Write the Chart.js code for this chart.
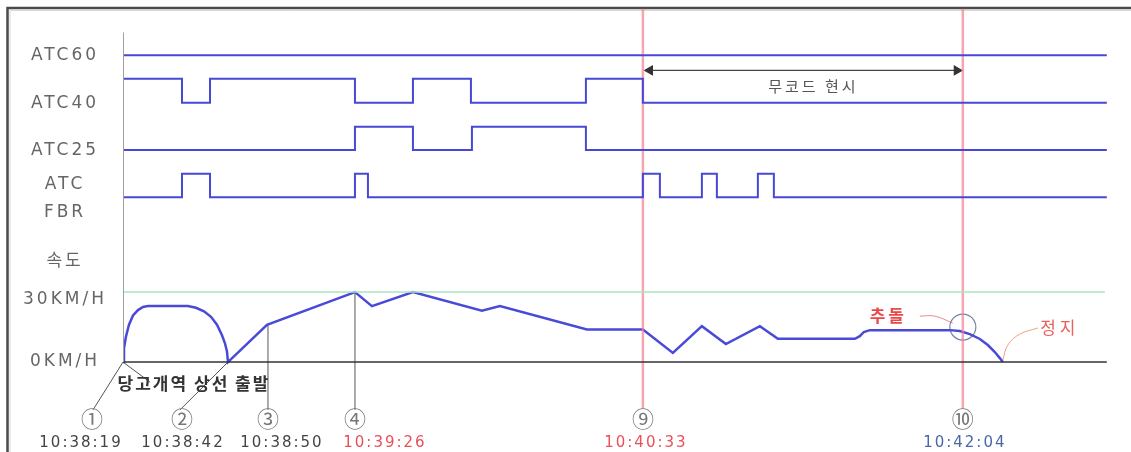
<!DOCTYPE html>
<html>
<head>
<meta charset="utf-8">
<script src="https://cdn.jsdelivr.net/npm/chart.js@4.4.0/dist/chart.umd.min.js"></script>
<style>
  html, body { margin: 0; padding: 0; background: #fff; }
  canvas { display: block; }
</style>
</head>
<body>
<canvas id="atc-chart" width="1131" height="452"></canvas>
<script>
// x = position along the time line (not linear in clock time), y = speed in km/h
// signal rows live above the speed area on the same y scale

const yTickValues = [0, 27, 43.3, 70.1, 90.9, 111, 131.6];
const yTickLabels = ["0KM/H", "30KM/H", "속도", ["ATC", "FBR"], "ATC25", "ATC40", "ATC60"];

// signal edges: state holds from this x until the next one
const atc60X = [0, 984];
const atc60State = [1, 1];
const atc40X = [0, 59, 87, 232, 290, 348, 463, 520, 984];
const atc40State = [1, 0, 1, 0, 1, 0, 1, 0, 0];
const atc25X = [0, 232, 290, 349, 463, 984];
const atc25State = [0, 1, 0, 1, 0, 0];
const fbrX = [0, 59, 87, 232, 245, 520, 537, 579, 594, 635, 651, 984];
const fbrState = [0, 1, 0, 1, 0, 1, 0, 1, 0, 1, 0, 0];

// speed trace
const speedX = [0, 1, 3, 6, 10, 15, 20, 25, 65, 73, 81, 88, 94, 99, 102, 104, 105,
  144, 232, 249, 290, 359, 377, 464, 520, 550, 579, 603, 637, 655, 732, 737, 741, 747,
  827, 837, 847, 857, 865, 872, 877, 880];
const speedY = [0, 6, 11, 16, 20, 22.3, 23.6, 24, 24, 23.3, 21.8, 19.4, 16, 11.5, 8, 4.5, 0,
  16, 30, 24, 30, 22, 24, 14, 14, 3.9, 15.4, 7.7, 15.4, 10, 10, 11.1, 12.9, 13.7,
  13.7, 13.3, 12, 9.9, 7.3, 4.3, 1.7, 0];

// event markers
const markX = [-31, 59, 145, 232, 520, 840];
const markNum = ["①", "②", "③", "④", "⑨", "⑩"];
const timeX = [-43, 59, 158, 261, 522, 841];
const timeText = ["10:38:19", "10:38:42", "10:38:50", "10:39:26", "10:40:33", "10:42:04"];
const redMarkX = [520, 840];

// leader lines to markers: [x1, y1, x2, y2]
const leaders = [
  [-30, -20.5, 0, 0],
  [0, 0, 27, -8.6],
  [57, -20.5, 105, 0],
  [145, -20.5, 145, 16],
  [232, -20.5, 232, 30]
];

const noCodeX = [527, 834];
const noCodeY = 125.1;
const crashX = 840, crashY = 15;
const crashLeadX = [797, 812, 830], crashLeadY = [19.7, 19.7, 16.7];
const stopLeadX = [880, 885, 897, 915], stopLeadY = [0.9, 7.3, 12, 14.6];

const noteText = ["무코드 현시", "당고개역 상선 출발", "추돌", "정지"];
const noteX = [689, 70, 764, 935];
const noteY = [118.3, -9, 20.1, 14.6];

const BLUE = "#4848d6";
const LATIN = "'DejaVu Sans', 'Noto Sans CJK KR', sans-serif";
const KR = "'Noto Sans CJK KR', sans-serif";

function pts(xs, ys) {
  return xs.map((x, i) => ({ x: x, y: ys[i] }));
}
function signal(xs, states, low, high) {
  return xs.map((x, i) => ({ x: x, y: states[i] ? high : low }));
}
function lineSet(data, color, width, extra) {
  return Object.assign({ data: data, borderColor: color, borderWidth: width, pointRadius: 0, fill: false, tension: 0 }, extra || {});
}

const datasets = [];
datasets.push(lineSet(pts([0, 0], [0, 141.4]), "#a0a0a0", 2));
datasets.push(lineSet(pts([0, 984], [0, 0]), "#333", 1.5));
datasets.push(lineSet(pts([0, 982], [30, 30]), "#a9e4c0", 1.5));
datasets.push(lineSet(signal(atc60X, atc60State, 131.6, 131.6), BLUE, 2));
datasets.push(lineSet(signal(atc40X, atc40State, 111.2, 121.5), BLUE, 2, { stepped: "before" }));
datasets.push(lineSet(signal(atc25X, atc25State, 91.0, 100.9), BLUE, 2, { stepped: "before" }));
datasets.push(lineSet(signal(fbrX, fbrState, 70.7, 80.8), BLUE, 2, { stepped: "before" }));
redMarkX.forEach(x => datasets.push(lineSet(pts([x, x], [-20, 151.5]), "rgba(240,130,145,0.7)", 2.5, { clip: false })));
leaders.forEach(l => datasets.push(lineSet(pts([l[0], l[2]], [l[1], l[3]]), "#555", 1, { clip: false })));
datasets.push(lineSet(pts(speedX, speedY), "#4a4ad8", 2.5));
datasets.push(lineSet(pts(noCodeX, [noCodeY, noCodeY]), "#444", 1.2, {
  pointRadius: 5, pointStyle: "triangle", rotation: [270, 90],
  pointBackgroundColor: "#333", pointBorderColor: "#333"
}));
datasets.push(lineSet(pts([crashX], [crashY]), "#6a7a9a", 1, {
  showLine: false, pointRadius: 13, pointStyle: "circle",
  pointBackgroundColor: "rgba(0,0,0,0)", pointBorderColor: "#7484a2", pointBorderWidth: 1.2
}));
datasets.push(lineSet(pts(crashLeadX, crashLeadY), "#f08a8a", 1, { tension: 0.4 }));
datasets.push(lineSet(pts(stopLeadX, stopLeadY), "#f0a080", 1, { tension: 0.4 }));

function drawText(ctx, text, x, y, font, color, spacing) {
  ctx.save();
  ctx.font = font;
  ctx.fillStyle = color;
  ctx.letterSpacing = spacing + "px";
  ctx.textAlign = "center";
  ctx.textBaseline = "middle";
  ctx.fillText(text, x + spacing / 2, y);
  ctx.restore();
}

const decorPlugin = {
  id: "decor",
  beforeUpdate(chart) {
    chart.ctx.letterSpacing = "3px";
  },
  beforeDraw(chart) {
    const ctx = chart.ctx;
    ctx.save();
    ctx.letterSpacing = "0px";
    ctx.fillStyle = "#fff";
    ctx.fillRect(0, 0, chart.width, chart.height);
    ctx.strokeStyle = "#4a4a4a";
    ctx.lineWidth = 2.5;
    ctx.beginPath();
    ctx.moveTo(7.5, chart.height);
    ctx.lineTo(7.5, 8);
    ctx.lineTo(chart.width, 8);
    ctx.stroke();
    ctx.strokeStyle = "#d8d8d8";
    ctx.lineWidth = 1;
    ctx.beginPath();
    ctx.moveTo(10, chart.height);
    ctx.lineTo(10, 10.5);
    ctx.lineTo(chart.width, 10.5);
    ctx.stroke();
    ctx.restore();
    ctx.letterSpacing = "3px";
  },
  afterDraw(chart) {
    const ctx = chart.ctx;
    const xs = chart.scales.x, ys = chart.scales.y;
    const bottom = chart.chartArea.bottom;
    markX.forEach((v, i) => {
      drawText(ctx, markNum[i], xs.getPixelForValue(v), bottom + 10, "22px " + KR, "#777", 0);
    });
    const timeColors = ["#444", "#444", "#444", "#e8505a", "#e8505a", "#4a68a8"];
    timeX.forEach((v, i) => {
      drawText(ctx, timeText[i], xs.getPixelForValue(v), bottom + 34, "15px " + LATIN, timeColors[i], 2);
    });
    const noteFont = ["15px " + KR, "bold 17px " + KR, "bold 17px " + KR, "17px " + KR];
    const noteColor = ["#555", "#333", "#e84848", "#e86060"];
    const noteSpacing = [3, 2, 3, 4];
    noteText.forEach((t, i) => {
      drawText(ctx, t, xs.getPixelForValue(noteX[i]), ys.getPixelForValue(noteY[i]), noteFont[i], noteColor[i], noteSpacing[i]);
    });
  }
};

new Chart(document.getElementById("atc-chart"), {
  type: "line",
  data: { datasets: datasets },
  plugins: [decorPlugin],
  options: {
    responsive: false,
    devicePixelRatio: 1,
    animation: false,
    layout: { padding: { left: 9, right: 14, top: 14, bottom: 43.3 } },
    plugins: { legend: { display: false }, tooltip: { enabled: false } },
    scales: {
      x: { type: "linear", min: 0, max: 994, display: false },
      y: {
        type: "linear",
        min: -20,
        max: 149.2,
        border: { display: false },
        grid: { display: false, drawTicks: false },
        afterBuildTicks(scale) {
          scale.ticks = yTickValues.map(v => ({ value: v }));
        },
        afterFit(scale) {
          scale.width = 114;
          scale.paddingTop = 0;
          scale.paddingBottom = 0;
        },
        ticks: {
          autoSkip: false,
          crossAlign: "center",
          padding: 16,
          color: "#666",
          font: { family: LATIN, size: 17, lineHeight: 1.6 },
          callback(v) {
            const i = yTickValues.indexOf(v);
            return i >= 0 ? yTickLabels[i] : "";
          }
        }
      }
    }
  }
});
</script>
</body>
</html>
